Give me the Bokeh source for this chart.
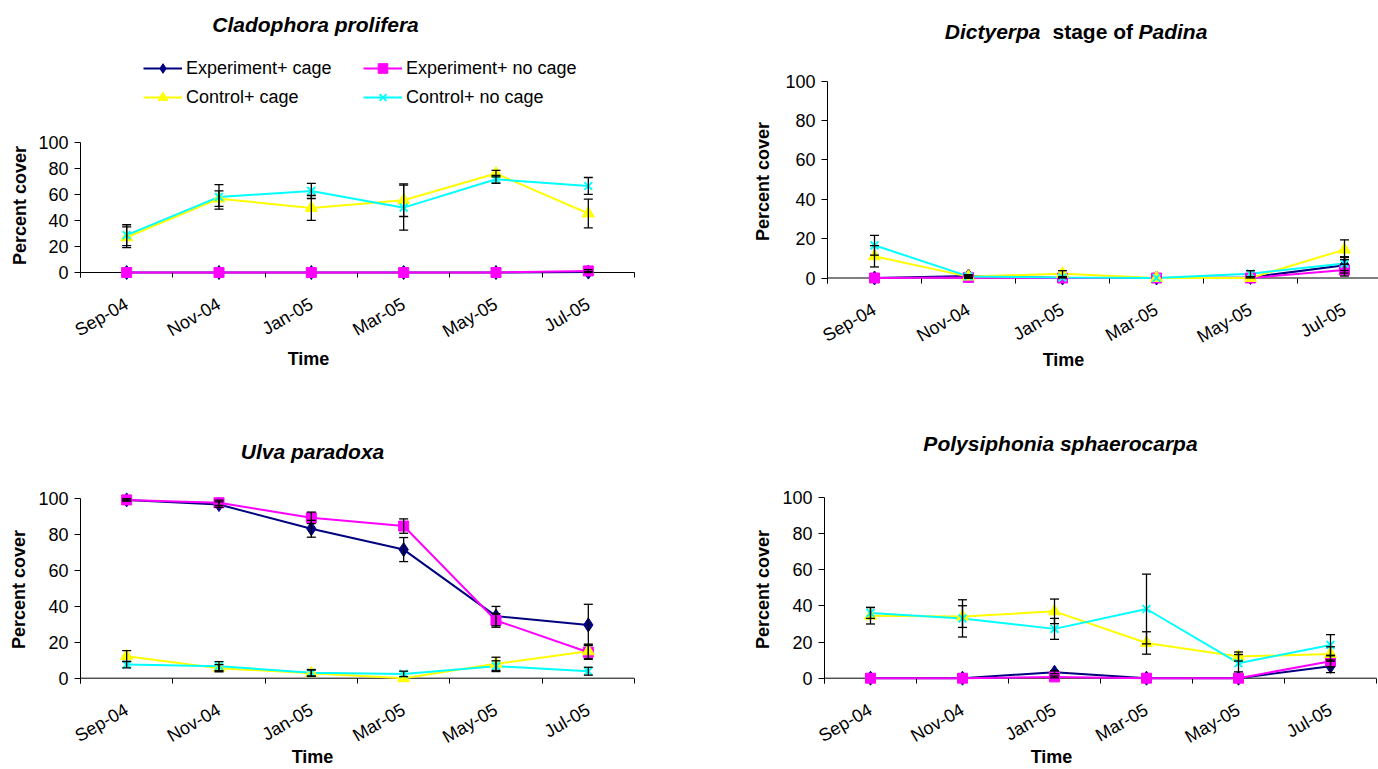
import math
from bokeh.plotting import figure
from bokeh.models import (Range1d, FixedTicker, Whisker, TeeHead, ColumnDataSource,
                          Label, Legend, LegendItem)
from bokeh.layouts import column, row
from bokeh.embed import file_html
from bokeh.resources import INLINE

FONT = "Liberation Sans"

months = ["Sep-04", "Nov-04", "Jan-05", "Mar-05", "May-05", "Jul-05"]
series_names = ["Experiment+ cage", "Experiment+ no cage", "Control+ cage", "Control+ no cage"]

# Cladophora prolifera
clad_exp_cage = [0, 0, 0, 0, 0, 0.3]
clad_exp_cage_se = [0, 0, 0, 0, 0, 0.3]
clad_exp_nocage = [0, 0, 0, 0, 0, 1.2]
clad_exp_nocage_se = [0, 0, 0, 0, 0, 1.0]
clad_ctl_cage = [27.0, 56.6, 49.5, 55.4, 75.8, 45.2]
clad_ctl_cage_se = [8.0, 6.0, 9.5, 12.5, 2.5, 11.0]
clad_ctl_nocage = [28.6, 57.9, 62.5, 49.7, 71.4, 66.3]
clad_ctl_nocage_se = [8.0, 9.4, 5.8, 17.3, 3.0, 6.5]

# Dictyerpa stage of Padina
dict_exp_cage = [0, 1.0, 0, 0, 0.3, 6.5]
dict_exp_cage_se = [0, 0.5, 0, 0, 0.3, 4.0]
dict_exp_nocage = [0, 0.3, 0, 0, 0, 4.0]
dict_exp_nocage_se = [0, 0.3, 0, 0, 0, 3.0]
dict_ctl_cage = [11.0, 0.7, 2.2, 0, 0, 14.4]
dict_ctl_cage_se = [5.4, 0.7, 1.5, 0, 0, 5.0]
dict_ctl_nocage = [16.6, 0.8, 0.2, 0, 2.2, 7.3]
dict_ctl_nocage_se = [5.0, 0.8, 0.2, 0, 1.5, 3.5]

# Ulva paradoxa
ulva_exp_cage = [99.4, 96.8, 83.3, 71.7, 34.6, 29.7]
ulva_exp_cage_se = [0.6, 1.5, 4.7, 6.7, 5.4, 11.5]
ulva_exp_nocage = [99.4, 97.8, 89.4, 84.8, 32.2, 14.5]
ulva_exp_nocage_se = [0.6, 1.5, 3.2, 4.0, 3.8, 4.0]
ulva_ctl_cage = [12.3, 5.6, 2.8, 0.0, 8.0, 15.0]
ulva_ctl_cage_se = [3.1, 2.0, 1.8, 0, 3.7, 4.0]
ulva_ctl_nocage = [7.6, 6.7, 3.0, 2.4, 6.7, 3.9]
ulva_ctl_nocage_se = [1.8, 2.5, 1.8, 1.5, 3.0, 2.2]

# Polysiphonia sphaerocarpa
poly_exp_cage = [0, 0, 3.3, 0, 0, 6.6]
poly_exp_cage_se = [0, 0, 0.8, 0, 0, 3.5]
poly_exp_nocage = [0, 0, 0.7, 0, 0, 9.4]
poly_exp_nocage_se = [0, 0, 0.5, 0, 0, 3.0]
poly_ctl_cage = [34.6, 34.1, 37.0, 19.5, 12.0, 13.4]
poly_ctl_cage_se = [4.6, 6.0, 6.8, 6.2, 2.5, 4.0]
poly_ctl_nocage = [36.1, 33.1, 27.3, 38.3, 8.3, 18.4]
poly_ctl_nocage_se = [3.0, 10.3, 5.8, 19.3, 4.8, 5.7]

colors = ["#000080", "#FF00FF", "#FFFF00", "#00FFFF"]
markers = ["diamond", "square", "triangle", "x"]
msizes = [14, 10, 12, 11]
yticks = [0, 20, 40, 60, 80, 100]


def build(g, series, titles, time_xy, ylab_xy, legend=None):
    fig_x, fig_y, fig_w, fig_h = g["fig"]
    axis_x, y100, y0, cat_w = g["axis_x"], g["y100"], g["y0"], g["cat_w"]
    fb = fig_y + fig_h
    ppu = (y0 - y100) / 100.0
    y_start = -(fb - y0) / ppu
    y_end = y_start + fig_h / ppu
    x_start = -0.5 - (axis_x - fig_x) / cat_w
    x_end = x_start + fig_w / cat_w
    n = len(months)
    x_axis_end = min(n - 0.5, x_end)

    def to_data(px, py):
        return x_start + (px - fig_x) / cat_w, y_start + (fb - py) / ppu

    p = figure(width=fig_w, height=fig_h, x_range=Range1d(x_start, x_end),
               y_range=Range1d(y_start, y_end), toolbar_location=None,
               output_backend="svg", title=None,
               min_border_left=0, min_border_right=0, min_border_top=0, min_border_bottom=0)
    p.outline_line_color = None
    p.xgrid.visible = False
    p.ygrid.visible = False

    yax = p.yaxis[0]
    yax.fixed_location = -0.5
    yax.ticker = FixedTicker(ticks=yticks)
    yax.bounds = (-5 / ppu, 100)
    yax.major_tick_out = 6
    yax.major_tick_in = 0
    yax.minor_tick_line_color = None
    yax.axis_line_color = "black"
    yax.major_tick_line_color = "black"
    yax.major_label_standoff = 6
    yax.major_label_text_font = FONT
    yax.major_label_text_font_size = "18px"
    yax.major_label_text_color = "black"

    xax = p.xaxis[0]
    xax.fixed_location = 0
    xax.ticker = FixedTicker(ticks=list(range(n)), minor_ticks=[i - 0.5 for i in range(n + 1)])
    xax.bounds = (-0.5, x_axis_end)
    xax.major_label_overrides = {i: m for i, m in enumerate(months)}
    xax.major_label_orientation = math.radians(30)
    xax.axis_line_color = None
    xax.major_tick_line_color = None
    xax.major_tick_out = 0
    xax.major_tick_in = 0
    xax.minor_tick_line_color = "black"
    xax.minor_tick_out = 5
    xax.minor_tick_in = 0
    xax.major_label_standoff = 25
    xax.major_label_text_font = FONT
    xax.major_label_text_font_size = "18px"
    xax.major_label_text_color = "black"

    # category axis line at y = 0, drawn beneath the series
    p.segment(x0=[-0.5], y0=[0], x1=[x_axis_end], y1=[0], line_color="black", line_width=1)

    xs = list(range(n))
    line_rs = []
    for (vals, errs), c in zip(series, colors):
        line_rs.append(p.line(xs, vals, line_color=c, line_width=2))
    for (vals, errs), c in zip(series, colors):
        bx = [x for x, e in zip(xs, errs) if e > 0]
        lo = [v - e for v, e in zip(vals, errs) if e > 0]
        hi = [v + e for v, e in zip(vals, errs) if e > 0]
        if bx:
            src = ColumnDataSource(dict(x=bx, lo=lo, hi=hi))
            w = Whisker(source=src, base="x", lower="lo", upper="hi", dimension="height",
                        line_color="black", line_width=1.3, level="glyph",
                        upper_head=TeeHead(size=9, line_color="black", line_width=1.3),
                        lower_head=TeeHead(size=9, line_color="black", line_width=1.3))
            p.add_layout(w)
    sc_rs = []
    for (vals, errs), c, m, s in zip(series, colors, markers, msizes):
        sc_rs.append(p.scatter(xs, vals, marker=m, size=s, fill_color=c, line_color=c,
                               line_width=2 if m == "x" else 1))

    for (txt, px, py, align, style) in titles:
        dx, dy = to_data(px, py)
        p.add_layout(Label(x=dx, y=dy, text=txt, text_align=align, text_baseline="middle",
                           text_font=FONT, text_font_size="21px", text_font_style=style,
                           text_color="black"))
    tx, ty = to_data(*time_xy)
    p.add_layout(Label(x=tx, y=ty, text="Time", text_align="center", text_baseline="middle",
                       text_font=FONT, text_font_size="18px", text_font_style="bold",
                       text_color="black"))
    lx_, ly_ = to_data(*ylab_xy)
    p.add_layout(Label(x=lx_, y=ly_, text="Percent cover", angle=math.pi / 2,
                       text_align="center", text_baseline="middle",
                       text_font=FONT, text_font_size="18px", text_font_style="bold",
                       text_color="black"))

    if legend is not None:
        lx, ltop = legend
        items_order = [0, 2, 1, 3]
        items = [LegendItem(label=series_names[i], renderers=[line_rs[i], sc_rs[i]])
                 for i in items_order]
        gh, sp = 24, 5
        leg_h = 2 * gh + sp
        lg = Legend(items=items, ncols=2, orientation="vertical",
                    location=(lx - fig_x, fb - (ltop + leg_h)),
                    glyph_width=39, glyph_height=gh, label_height=gh, label_width=172,
                    label_standoff=4, spacing=sp, padding=0, margin=0,
                    border_line_color=None, background_fill_alpha=0,
                    label_text_font=FONT, label_text_font_size="18px",
                    label_text_color="black")
        p.add_layout(lg)
    return p


g1 = dict(fig=(0, 0, 708, 380), axis_x=80, y100=141.5, y0=272, cat_w=92.33)
g2 = dict(fig=(708, 0, 670, 380), axis_x=827, y100=80.5, y0=277.5, cat_w=94)
g3 = dict(fig=(0, 380, 708, 389), axis_x=80, y100=498.3, y0=677.7, cat_w=92.33)
g4 = dict(fig=(708, 380, 670, 389), axis_x=824, y100=497, y0=677.7, cat_w=92)

s1 = [(clad_exp_cage, clad_exp_cage_se), (clad_exp_nocage, clad_exp_nocage_se),
      (clad_ctl_cage, clad_ctl_cage_se), (clad_ctl_nocage, clad_ctl_nocage_se)]
s2 = [(dict_exp_cage, dict_exp_cage_se), (dict_exp_nocage, dict_exp_nocage_se),
      (dict_ctl_cage, dict_ctl_cage_se), (dict_ctl_nocage, dict_ctl_nocage_se)]
s3 = [(ulva_exp_cage, ulva_exp_cage_se), (ulva_exp_nocage, ulva_exp_nocage_se),
      (ulva_ctl_cage, ulva_ctl_cage_se), (ulva_ctl_nocage, ulva_ctl_nocage_se)]
s4 = [(poly_exp_cage, poly_exp_cage_se), (poly_exp_nocage, poly_exp_nocage_se),
      (poly_ctl_cage, poly_ctl_cage_se), (poly_ctl_nocage, poly_ctl_nocage_se)]

p1 = build(g1, s1, [("Cladophora prolifera", 315, 24, "center", "bold italic")], (308, 358),
           (19, 205), legend=(143, 56))
p2 = build(g2, s2, [("Dictyerpa", 1040, 31, "right", "bold italic"),
                    ("stage of", 1052, 31, "left", "bold"),
                    ("Padina", 1138, 31, "left", "bold italic")], (1063, 359), (762, 181))
p3 = build(g3, s3, [("Ulva paradoxa", 312, 451, "center", "bold italic")], (312, 756),
           (18, 589))
p4 = build(g4, s4, [("Polysiphonia sphaerocarpa", 1060, 443, "center", "bold italic")],
           (1051, 756), (762, 589))

layout = column(row(p1, p2), row(p3, p4))
open("out.html", "w").write(file_html(layout, INLINE))
